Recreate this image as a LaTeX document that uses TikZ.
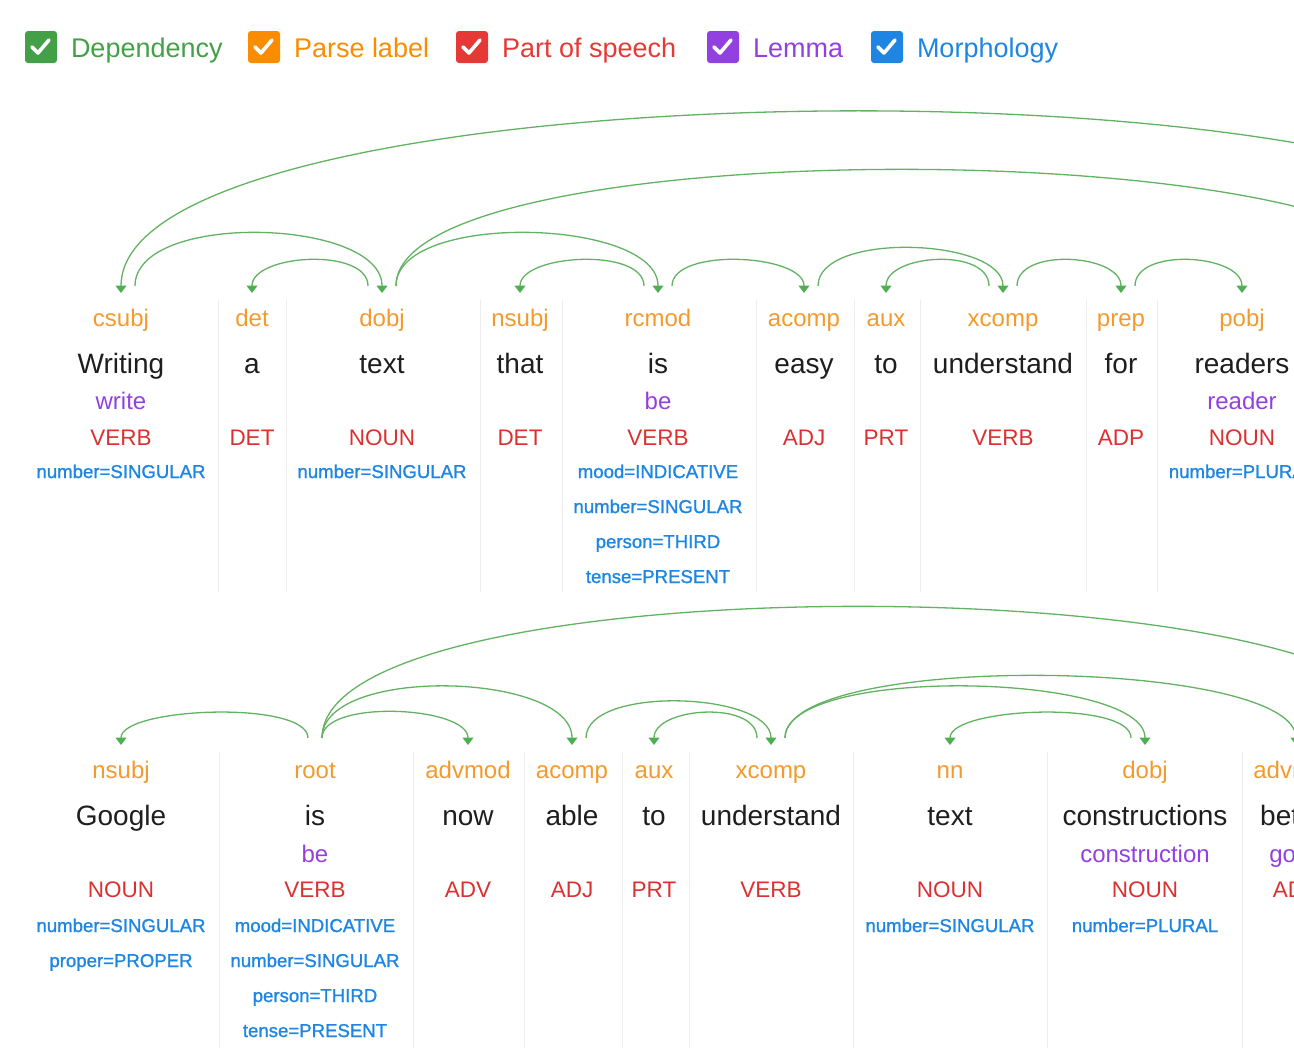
\documentclass[tikz,border=0pt]{standalone}
\usepackage{fontspec}
\setmainfont{Liberation Sans}
\newfontfamily\morphfont[FakeBold=1.2]{Liberation Sans}
\usetikzlibrary{arrows.meta,positioning}

\definecolor{depgreen}{HTML}{43A047}
\definecolor{arcgreen}{HTML}{62B262}
\definecolor{tipgreen}{HTML}{4CAF50}
\definecolor{parseorange}{HTML}{FB8C00}
\definecolor{laborange}{HTML}{F39A2E}
\definecolor{posred}{HTML}{DC3030}
\definecolor{boxred}{HTML}{E53935}
\definecolor{lemmapurple}{HTML}{9340E0}
\definecolor{morphblue}{HTML}{1E86E2}
\definecolor{wordblack}{HTML}{1E1E1E}
\definecolor{sepgray}{HTML}{EDEDED}

\tikzset{
  chkbox/.style={rounded corners=3pt,minimum size=32pt,inner sep=0pt},
  tick/.style={draw=white,line width=3.6pt,line cap=round,line join=round},
  legtext/.style={font=\fontsize{27}{30}\selectfont,text height=20pt,text depth=0pt},
  lab/.style={anchor=base,font=\fontsize{24}{26}\selectfont,text=laborange,text height=17pt,text depth=5pt},
  word/.style={anchor=base,font=\fontsize{28}{30}\selectfont,text=wordblack},
  lemma/.style={anchor=base,font=\fontsize{24}{26}\selectfont,text=lemmapurple},
  upos/.style={anchor=base,font=\fontsize{22.5}{24}\selectfont,text=posred},
  feat/.style={anchor=base,font=\morphfont\fontsize{18.6}{20}\selectfont,text=morphblue},
  sep/.style={draw=sepgray,line width=0.9pt},
  dep/.style={draw=arcgreen,line width=1.3pt,-{Triangle[width=11pt,length=7.5pt,color=tipgreen]}},
}

\begin{document}
\begin{tikzpicture}[x=1pt,y=-1pt,inner sep=0pt,outer sep=0pt]
\useasboundingbox (0,0) rectangle (1294,1061);
\clip (0,0) rectangle (1294,1061);

% legend
\node[chkbox,fill=depgreen] (boxDep) at (41,47) {};
\node[legtext,text=depgreen,right=14pt of boxDep] (txtDep) {Dependency};
\node[chkbox,fill=parseorange] (boxParse) at (264,47) {};
\node[legtext,text=parseorange,right=14pt of boxParse] (txtParse) {Parse label};
\node[chkbox,fill=boxred] (boxPos) at (472,47) {};
\node[legtext,text=boxred,right=14pt of boxPos] (txtPos) {Part of speech};
\node[chkbox,fill=lemmapurple] (boxLem) at (723,47) {};
\node[legtext,text=lemmapurple,right=14pt of boxLem] (txtLem) {Lemma};
\node[chkbox,fill=morphblue] (boxMorph) at (887,47) {};
\node[legtext,text=morphblue,right=14pt of boxMorph] (txtMorph) {Morphology};
\foreach \b in {boxDep,boxParse,boxPos,boxLem,boxMorph}
  \draw[tick] ([xshift=-9pt]\b.center) -- ++(6,6) -- ++(11,-13);

% column rules
\foreach \x in {218,286,480,562,756,854,920,1086,1157}
  \draw[sep] (\x,300) -- (\x,592);
\foreach \x in {219,413,524,622,689,853,1047,1242}
  \draw[sep] (\x,752) -- (\x,1048);

% first sentence
\foreach \n/\x/\lbl/\tok/\lem/\tag/\feats in {
  1/121/csubj/Writing/write/VERB/{number=SINGULAR},
  2/252/det/a/{}/DET/{},
  3/382/dobj/text/{}/NOUN/{number=SINGULAR},
  4/520/nsubj/that/{}/DET/{},
  5/658/rcmod/is/be/VERB/{mood=INDICATIVE,number=SINGULAR,person=THIRD,tense=PRESENT},
  6/804/acomp/easy/{}/ADJ/{},
  7/886/aux/to/{}/PRT/{},
  8/1003/xcomp/understand/{}/VERB/{},
  9/1121/prep/for/{}/ADP/{},
  10/1242/pobj/readers/reader/NOUN/{number=PLURAL}}{
  \node[lab]   (lab\n) at (\x,326) {\lbl};
  \node[word]  (w\n)   at (\x,373) {\tok};
  \node[lemma] (lem\n) at (\x,409) {\lem};
  \node[upos]  (pos\n) at (\x,445) {\tag};
  \foreach \m [count=\k] in \feats
    \node[feat] (m\n-\k) at (\x,{478+35*(\k-1)}) {\m};
  \coordinate (t\n) at ([yshift=16pt]lab\n.north);
  \coordinate (l\n) at ([shift={(-14pt,23pt)}]lab\n.north);
  \coordinate (r\n) at ([shift={(14pt,23pt)}]lab\n.north);
}

% second sentence
\foreach \n/\x/\lbl/\tok/\lem/\tag/\feats in {
  11/121/nsubj/Google/{}/NOUN/{number=SINGULAR,proper=PROPER},
  12/315/root/is/be/VERB/{mood=INDICATIVE,number=SINGULAR,person=THIRD,tense=PRESENT},
  13/468/advmod/now/{}/ADV/{},
  14/572/acomp/able/{}/ADJ/{},
  15/654/aux/to/{}/PRT/{},
  16/771/xcomp/understand/{}/VERB/{},
  17/950/nn/text/{}/NOUN/{number=SINGULAR},
  18/1145/dobj/constructions/construction/NOUN/{number=PLURAL},
  19/1296/advmod/better/good/ADV/{}}{
  \node[lab]   (lab\n) at (\x,778) {\lbl};
  \node[word]  (w\n)   at (\x,825) {\tok};
  \node[lemma] (lem\n) at (\x,862) {\lem};
  \node[upos]  (pos\n) at (\x,897) {\tag};
  \foreach \m [count=\k] in \feats
    \node[feat] (m\n-\k) at (\x,{932+35*(\k-1)}) {\m};
  \coordinate (t\n) at ([yshift=16pt]lab\n.north);
  \coordinate (l\n) at ([shift={(-14pt,23pt)}]lab\n.north);
  \coordinate (r\n) at ([shift={(14pt,23pt)}]lab\n.north);
}
\coordinate (l12) at ([shift={(-7pt,23pt)}]lab12.north);
\coordinate (r12) at ([shift={(7pt,23pt)}]lab12.north);

% heads off the right edge
\coordinate (rootTop) at (1580,286);
\coordinate (farTop) at (1424,293);
\coordinate (farBot) at (1410,745);

% arcs, first sentence
\draw[dep] (rootTop) .. controls +(0,-237) and +(0,-237) .. (t1);
\draw[dep] (r1) .. controls +(0,-75) and +(0,-75) .. (t3);
\draw[dep] (l3) .. controls +(0,-39) and +(0,-39) .. (t2);
\draw[dep] (r3) .. controls +(0,-75) and +(0,-75) .. (t5);
\draw[dep] (r3) .. controls +(0,-159) and +(0,-159) .. (farTop);
\draw[dep] (l5) .. controls +(0,-39) and +(0,-39) .. (t4);
\draw[dep] (r5) .. controls +(0,-39) and +(0,-39) .. (t6);
\draw[dep] (r6) .. controls +(0,-55) and +(0,-55) .. (t8);
\draw[dep] (l8) .. controls +(0,-39) and +(0,-39) .. (t7);
\draw[dep] (r8) .. controls +(0,-39) and +(0,-39) .. (t9);
\draw[dep] (r9) .. controls +(0,-39) and +(0,-39) .. (t10);

% arcs, second sentence
\draw[dep] (l12) .. controls +(0,-38) and +(0,-38) .. (t11);
\draw[dep] (r12) .. controls +(0,-39) and +(0,-39) .. (t13);
\draw[dep] (r12) .. controls +(0,-73) and +(0,-73) .. (t14);
\draw[dep] (r12) .. controls +(0,-179) and +(0,-179) .. (farBot);
\draw[dep] (r14) .. controls +(0,-53) and +(0,-53) .. (t16);
\draw[dep] (l16) .. controls +(0,-38) and +(0,-38) .. (t15);
\draw[dep] (r16) .. controls +(0,-73) and +(0,-73) .. (t18);
\draw[dep] (r16) .. controls +(0,-87) and +(0,-87) .. (t19);
\draw[dep] (l18) .. controls +(0,-38) and +(0,-38) .. (t17);
\end{tikzpicture}
\end{document}
